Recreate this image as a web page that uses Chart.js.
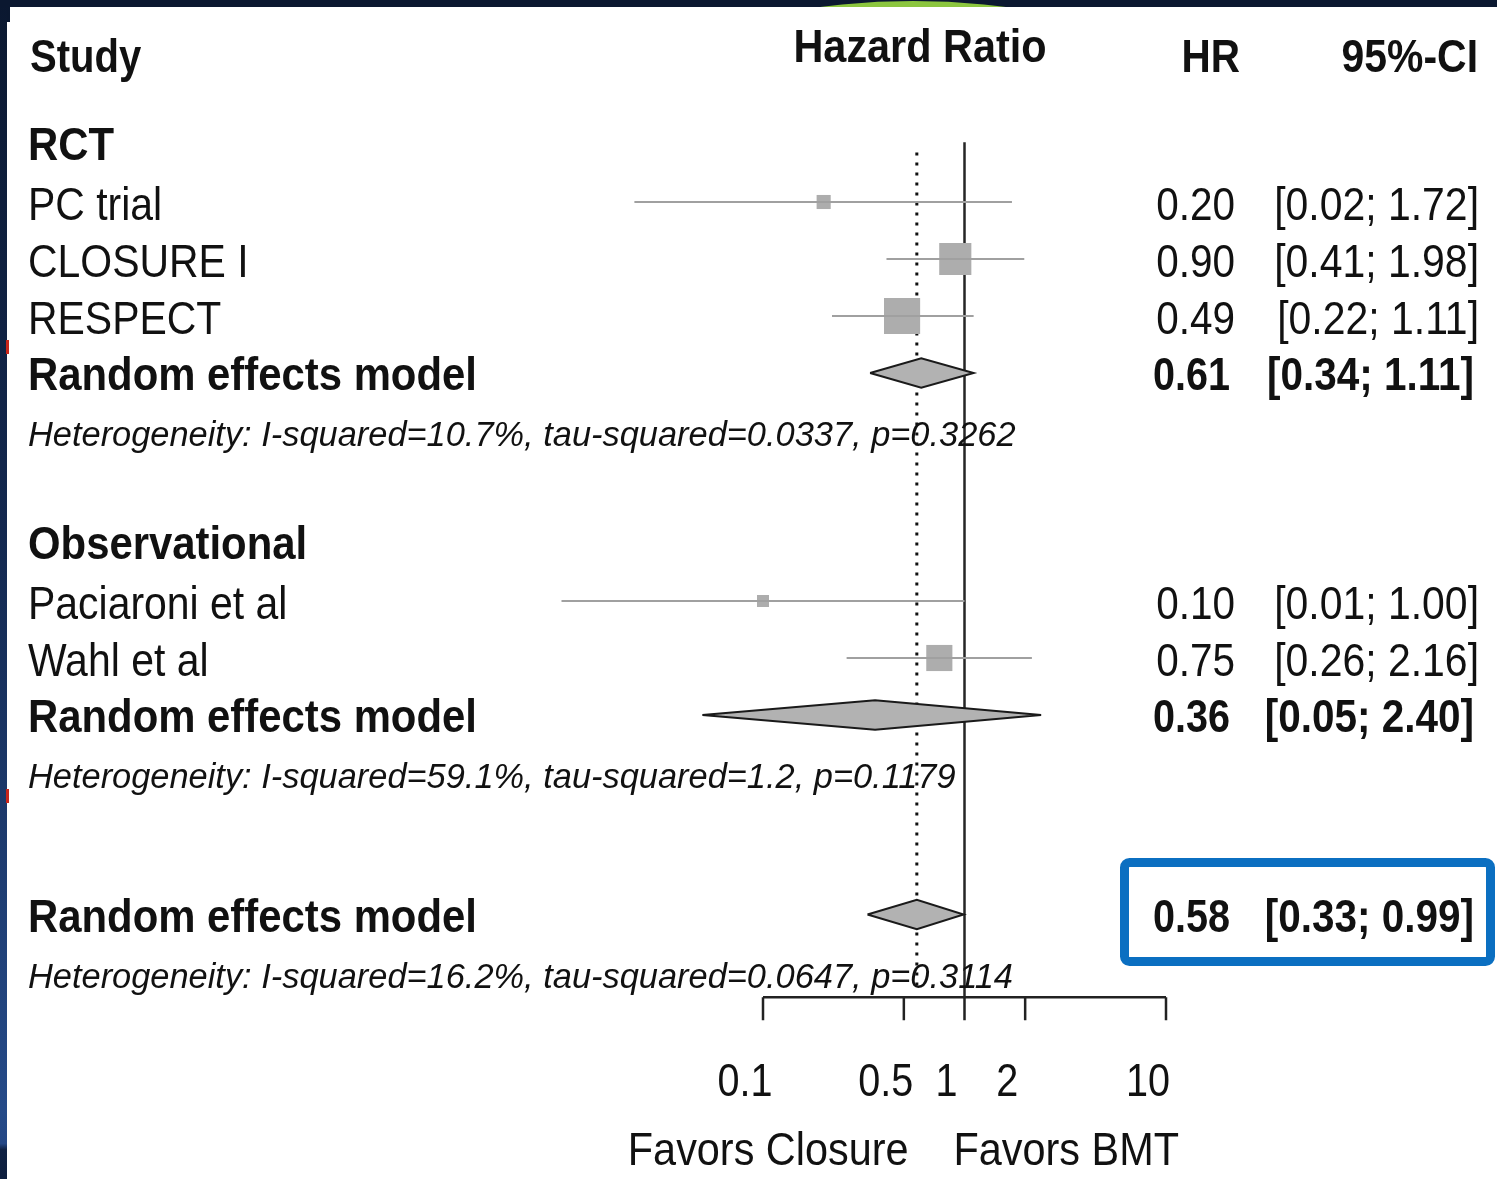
<!DOCTYPE html>
<html>
<head>
<meta charset="utf-8">
<title>Forest plot</title>
<script src="https://cdn.jsdelivr.net/npm/chart.js@4.4.1/dist/chart.umd.min.js"></script>
<style>
  html, body { margin: 0; padding: 0; background: #fff; }
  canvas { display: block; }
</style>
</head>
<body>
<canvas id="forestChart" width="1497" height="1179"></canvas>
<script>
// single studies
const studyNames = ['PC trial', 'CLOSURE I', 'RESPECT', 'Paciaroni et al', 'Wahl et al'];
const studyRows = [1, 2, 3, 8, 9];
const studyHR = [0.20, 0.90, 0.49, 0.10, 0.75];
const studyLower = [0.023, 0.41, 0.22, 0.01, 0.26];
const studyUpper = [1.72, 1.98, 1.11, 1.00, 2.16];
const studyWeight = [5.9, 30.7, 38.8, 4.3, 20.3];

// subgroup headings
const groupNames = ['RCT', 'Observational'];
const groupRows = [0, 7];

// pooled estimates (two subgroups + overall)
const pooledNames = ['Random effects model', 'Random effects model', 'Random effects model'];
const pooledRows = [4, 10, 13.5];
const pooledHR = [0.61, 0.36, 0.58];
const pooledLower = [0.34, 0.05, 0.33];
const pooledUpper = [1.11, 2.40, 0.99];

// heterogeneity lines
const hetRows = [5, 11, 14.5];
const hetI2 = ['10.7%', '59.1%', '16.2%'];
const hetTau2 = ['0.0337', '1.2', '0.0647'];
const hetP = ['0.3262', '0.1179', '0.3114'];

// x axis
const axisTicks = [0.1, 0.5, 1, 2, 10];
const axisTickLabels = ['0.1', '0.5', '1', '2', '10'];
const favorLabels = ['Favors Closure', 'Favors BMT'];
const axisRow = 14.95;

const FONT = '"Liberation Sans", Arial, sans-serif';
const INK = '#111';

const fmt = v => v.toFixed(2);
const ciText = (lo, hi) => '[' + fmt(lo) + '; ' + fmt(hi) + ']';

function put(ctx, str, x, y, font, align, sx) {
  ctx.save();
  ctx.font = font;
  ctx.fillStyle = INK;
  ctx.textAlign = align;
  ctx.textBaseline = 'alphabetic';
  ctx.translate(x, y);
  ctx.scale(sx, 1);
  ctx.fillText(str, 0, 0);
  ctx.restore();
}

// CI whiskers, one line per study
const ciSets = studyNames.map((name, i) => ({
  type: 'line',
  label: name + ' CI',
  data: [{ x: studyLower[i], y: studyRows[i] }, { x: studyUpper[i], y: studyRows[i] }],
  borderColor: '#a0a0a0',
  borderWidth: 2,
  pointRadius: 0,
  clip: false,
  order: 1
}));

// weight squares, side ~ sqrt(weight)
const squareSet = {
  type: 'scatter',
  label: 'Studies',
  data: studyNames.map((n, i) => ({ x: studyHR[i], y: studyRows[i] })),
  pointStyle: 'rect',
  pointRadius: studyWeight.map(w => 5.8 * Math.sqrt(w) / (2 * Math.SQRT1_2)),
  backgroundColor: '#adadad',
  borderWidth: 0,
  clip: false,
  order: 2
};

// pooled diamonds
const diamondSets = pooledNames.map((name, i) => {
  const r = pooledRows[i];
  const h = 0.26;
  return {
    type: 'line',
    label: name + ' ' + i,
    data: [
      { x: pooledLower[i], y: r },
      { x: pooledHR[i], y: r - h },
      { x: pooledUpper[i], y: r },
      { x: pooledHR[i], y: r + h },
      { x: pooledLower[i], y: r }
    ],
    fill: 'shape',
    backgroundColor: '#b2b2b2',
    borderColor: '#1a1a1a',
    borderWidth: 2,
    borderJoinStyle: 'miter',
    pointRadius: 0,
    tension: 0,
    clip: false,
    order: 3
  };
});

// line of no effect and overall estimate
const refSets = [
  {
    type: 'line',
    label: 'No effect',
    data: [{ x: 1, y: -0.05 }, { x: 1, y: axisRow }],
    borderColor: '#262626',
    borderWidth: 2.5,
    pointRadius: 0,
    clip: false,
    order: 4
  },
  {
    type: 'line',
    label: 'Overall',
    data: [{ x: pooledHR[2], y: 0.13 }, { x: pooledHR[2], y: axisRow - 0.1 }],
    borderColor: '#111',
    borderWidth: 3,
    borderDash: [3, 7],
    pointRadius: 0,
    clip: false,
    order: 5
  }
];

const framePlugin = {
  id: 'frame',
  beforeDraw(chart) {
    const { ctx, width, height } = chart;
    ctx.save();
    const g = ctx.createLinearGradient(0, 0, 0, height);
    g.addColorStop(0, '#0b1830');
    g.addColorStop(0.45, '#13284f');
    g.addColorStop(0.94, '#254a88');
    g.addColorStop(0.97, '#244785');
    g.addColorStop(0.975, '#0f2143');
    g.addColorStop(1, '#0e1f3e');
    ctx.fillStyle = g;
    ctx.fillRect(0, 0, width, height);
    ctx.fillStyle = '#0b1830';
    ctx.fillRect(0, 0, width, 7);
    ctx.save();
    ctx.beginPath();
    ctx.rect(0, 0, width, 7);
    ctx.clip();
    ctx.fillStyle = '#8cc63f';
    ctx.beginPath();
    ctx.arc(913, 723, 722, 0, Math.PI * 2);
    ctx.fill();
    ctx.restore();
    ctx.fillStyle = '#fff';
    ctx.fillRect(7, 7, width - 7, height - 7);
    ctx.fillStyle = '#0b1830';
    ctx.fillRect(7, 7, 3, 15);
    ctx.fillStyle = '#c8261b';
    ctx.fillRect(6, 340, 3, 14);
    ctx.fillRect(6, 789, 3, 14);
    ctx.restore();
  }
};

const textPlugin = {
  id: 'forestText',
  afterDatasetsDraw(chart) {
    const { ctx } = chart;
    const px = v => chart.scales.x.getPixelForValue(v);
    const py = r => chart.scales.y.getPixelForValue(r);
    const reg = '46px ' + FONT;
    const bold = 'bold 46px ' + FONT;
    const ital = 'italic 34.4px ' + FONT;

    // column headers
    put(ctx, 'Study', 30, 72, bold, 'left', 0.87);
    put(ctx, 'Hazard Ratio', 920, 62, bold, 'center', 0.9);
    put(ctx, 'HR', 1240, 72, bold, 'right', 0.88);
    put(ctx, '95%-CI', 1478, 72, bold, 'right', 0.89);

    groupNames.forEach((g, i) => put(ctx, g, 28, py(groupRows[i]) + 15, bold, 'left', 0.91));

    studyNames.forEach((s, i) => {
      const y = py(studyRows[i]) + 18;
      put(ctx, s, 28, y, reg, 'left', 0.89);
      put(ctx, fmt(studyHR[i]), 1235, y, reg, 'right', 0.88);
      put(ctx, ciText(studyLower[i], studyUpper[i]), 1479, y, reg, 'right', 0.89);
    });

    pooledNames.forEach((s, i) => {
      const y = py(pooledRows[i]) + 17;
      put(ctx, s, 28, y, bold, 'left', 0.91);
      put(ctx, fmt(pooledHR[i]), 1230, y, bold, 'right', 0.86);
      put(ctx, ciText(pooledLower[i], pooledUpper[i]), 1474, y, bold, 'right', 0.88);
    });

    hetRows.forEach((r, i) => {
      const str = 'Heterogeneity: I-squared=' + hetI2[i] + ', tau-squared=' + hetTau2[i] + ', p=' + hetP[i];
      put(ctx, str, 28, py(r) + 16, ital, 'left', 1);
    });

    // axis
    const ya = py(axisRow);
    ctx.save();
    ctx.strokeStyle = '#222';
    ctx.lineWidth = 2.5;
    ctx.beginPath();
    ctx.moveTo(px(axisTicks[0]), ya);
    ctx.lineTo(px(axisTicks[axisTicks.length - 1]), ya);
    axisTicks.forEach(t => {
      ctx.moveTo(px(t), ya);
      ctx.lineTo(px(t), ya + 23);
    });
    ctx.stroke();
    ctx.restore();
    axisTicks.forEach((t, i) => put(ctx, axisTickLabels[i], px(t) - 18, ya + 99, reg, 'center', 0.86));

    put(ctx, favorLabels[0], px(1) - 56, ya + 168, reg, 'right', 0.9);
    put(ctx, favorLabels[1], px(1) - 11, ya + 168, reg, 'left', 0.9);

    // highlight box around the overall estimate
    const yo = py(pooledRows[2]);
    ctx.save();
    ctx.strokeStyle = '#0b6fc1';
    ctx.lineWidth = 9;
    ctx.beginPath();
    ctx.roundRect(1124.5, yo - 52, 366, 99, 5);
    ctx.stroke();
    ctx.restore();
  }
};

new Chart(document.getElementById('forestChart'), {
  type: 'scatter',
  data: { datasets: [...ciSets, squareSet, ...diamondSets, ...refSets] },
  options: {
    responsive: false,
    animation: false,
    devicePixelRatio: 1,
    events: [],
    layout: { autoPadding: false, padding: { left: 561.5, right: 331, top: 31, bottom: 8 } },
    plugins: {
      legend: { display: false },
      tooltip: { enabled: false }
    },
    scales: {
      x: { type: 'logarithmic', min: 0.01, max: 10, display: false },
      y: { type: 'linear', min: -2, max: 18, reverse: true, display: false }
    }
  },
  plugins: [framePlugin, textPlugin]
});
</script>
</body>
</html>
